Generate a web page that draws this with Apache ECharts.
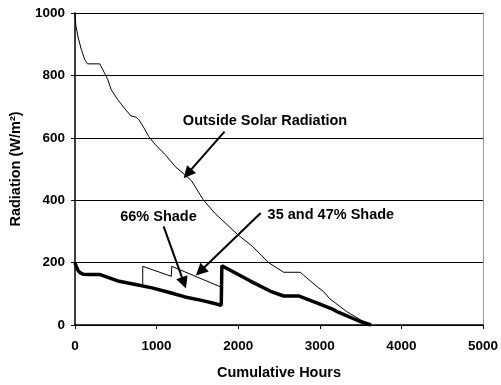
<!DOCTYPE html>
<html>
<head>
<meta charset="utf-8">
<script src="https://cdn.jsdelivr.net/npm/echarts@6/dist/echarts.min.js"></script>
<style>html,body{margin:0;padding:0;background:#fff}#c{width:501px;height:385px}</style>
</head>
<body>
<div id="c"></div>
<script>
// Outside solar radiation (hours, W/m2)
const outsideHours  = [0,10,40,81,121,153,303,363,403,444,524,605,686,747,783,847,904,985,1106,1227,1348,1429,1570,1711,1993,2175,2377,2558,2760,2800,2962,3042,3123,3325,3527,3628];
const outsideValues = [1000,960,920,880,850,837,837,807,786,754,722,695,670,666,658,631,604,578,546,508,481,462,402,359,290,252,199,169,169,160,124,108,84,44,12,0];

// 66% shade then combined (thick line)
const shade66Hours  = [0,20,36,60,97,178,299,420,541,742,944,1146,1348,1550,1711,1792,1800,2155,2397,2558,2740,2962,3163,3204,3487,3628];
const shade66Values = [199,185,176,168,163,162,162,151,140,130,119,105,90,79,69,63,190,140,108,93,93,71,50,44,12,0];

// 35 and 47% shade (thin line)
const shade3547Hours  = [830,830,1180,1186,1795];
const shade3547Values = [130,188,156,188,121];

// axis ticks
const xTicks = [0,1000,2000,3000,4000,5000];
const yTicks = [0,200,400,600,800,1000];

// annotations
const annoLabels = ['Outside Solar Radiation','66% Shade','35 and 47% Shade'];
const annoTextPos = [[2329,655],[1023,347],[3136,354]];
const annoArrowFrom = [[1832,620],[1086,316],[2276,359]];
const annoArrowTo = [[1380,485],[1335,135],[1535,172]];

const zip = (a,b) => a.map((v,i)=>[v,b[i]]);
const font = 'Liberation Sans, Arial, sans-serif';

const chart = echarts.init(document.getElementById('c'), null, {renderer:'canvas'});
chart.setOption({
  animation:false,
  backgroundColor:'#fff',
  grid:{left:72,right:16,top:13,bottom:60},
  xAxis:{
    type:'value',min:xTicks[0],max:xTicks[xTicks.length-1],interval:1000,
    name:'Cumulative Hours',nameLocation:'middle',nameGap:40,
    nameTextStyle:{fontFamily:font,fontWeight:'bold',fontSize:14.5,color:'#000'},
    axisLine:{lineStyle:{color:'#000',width:1.5}},
    axisTick:{show:true,length:4,lineStyle:{color:'#000'}},
    axisLabel:{margin:14,fontFamily:font,fontWeight:'bold',fontSize:13.5,color:'#000',formatter:v=>String(v)},
    splitLine:{show:false}
  },
  yAxis:[{
    type:'value',min:yTicks[0],max:yTicks[yTicks.length-1],interval:200,
    name:'Radiation (W/m²)',nameLocation:'middle',nameGap:52,
    nameTextStyle:{fontFamily:font,fontWeight:'bold',fontSize:14.5,color:'#000'},
    axisLine:{show:true,lineStyle:{color:'#000',width:1.5}},
    axisTick:{show:true,length:4,lineStyle:{color:'#000'}},
    axisLabel:{margin:10,fontFamily:font,fontWeight:'bold',fontSize:13.5,color:'#000',formatter:v=>String(v)},
    splitLine:{show:true,lineStyle:{color:'#000',width:1}}
  },{
    type:'value',min:0,max:1000,interval:200,position:'right',
    axisLine:{show:true,lineStyle:{color:'#999',width:1}},
    axisTick:{show:false},axisLabel:{show:false},splitLine:{show:false}
  }],
  series:[
    {type:'line',name:'Outside',data:zip(outsideHours,outsideValues),showSymbol:false,
     lineStyle:{color:'#000',width:1},z:3},
    {type:'line',name:'66%',data:zip(shade66Hours,shade66Values),showSymbol:false,
     lineStyle:{color:'#000',width:3.5},z:4},
    {type:'line',name:'35/47%',data:zip(shade3547Hours,shade3547Values),showSymbol:false,
     lineStyle:{color:'#000',width:1},z:3},
    {type:'scatter',name:'anno',symbolSize:1,z:6,
     itemStyle:{color:'rgba(0,0,0,0)',opacity:1},
     data:annoTextPos.map((p,i)=>({value:p,name:annoLabels[i]})),
     label:{show:true,position:'inside',formatter:p=>p.name,fontFamily:font,fontWeight:'bold',fontSize:14.5,color:'#000',opacity:1},
     markLine:{silent:true,symbol:['none','triangle'],symbolSize:12,
       itemStyle:{color:'#000'},
       lineStyle:{color:'#000',width:2,type:'solid',opacity:1},label:{show:false},
       data:annoArrowFrom.map((f,i)=>[{coord:f},{coord:annoArrowTo[i]}])}
    }
  ]
});
</script>
</body>
</html>
